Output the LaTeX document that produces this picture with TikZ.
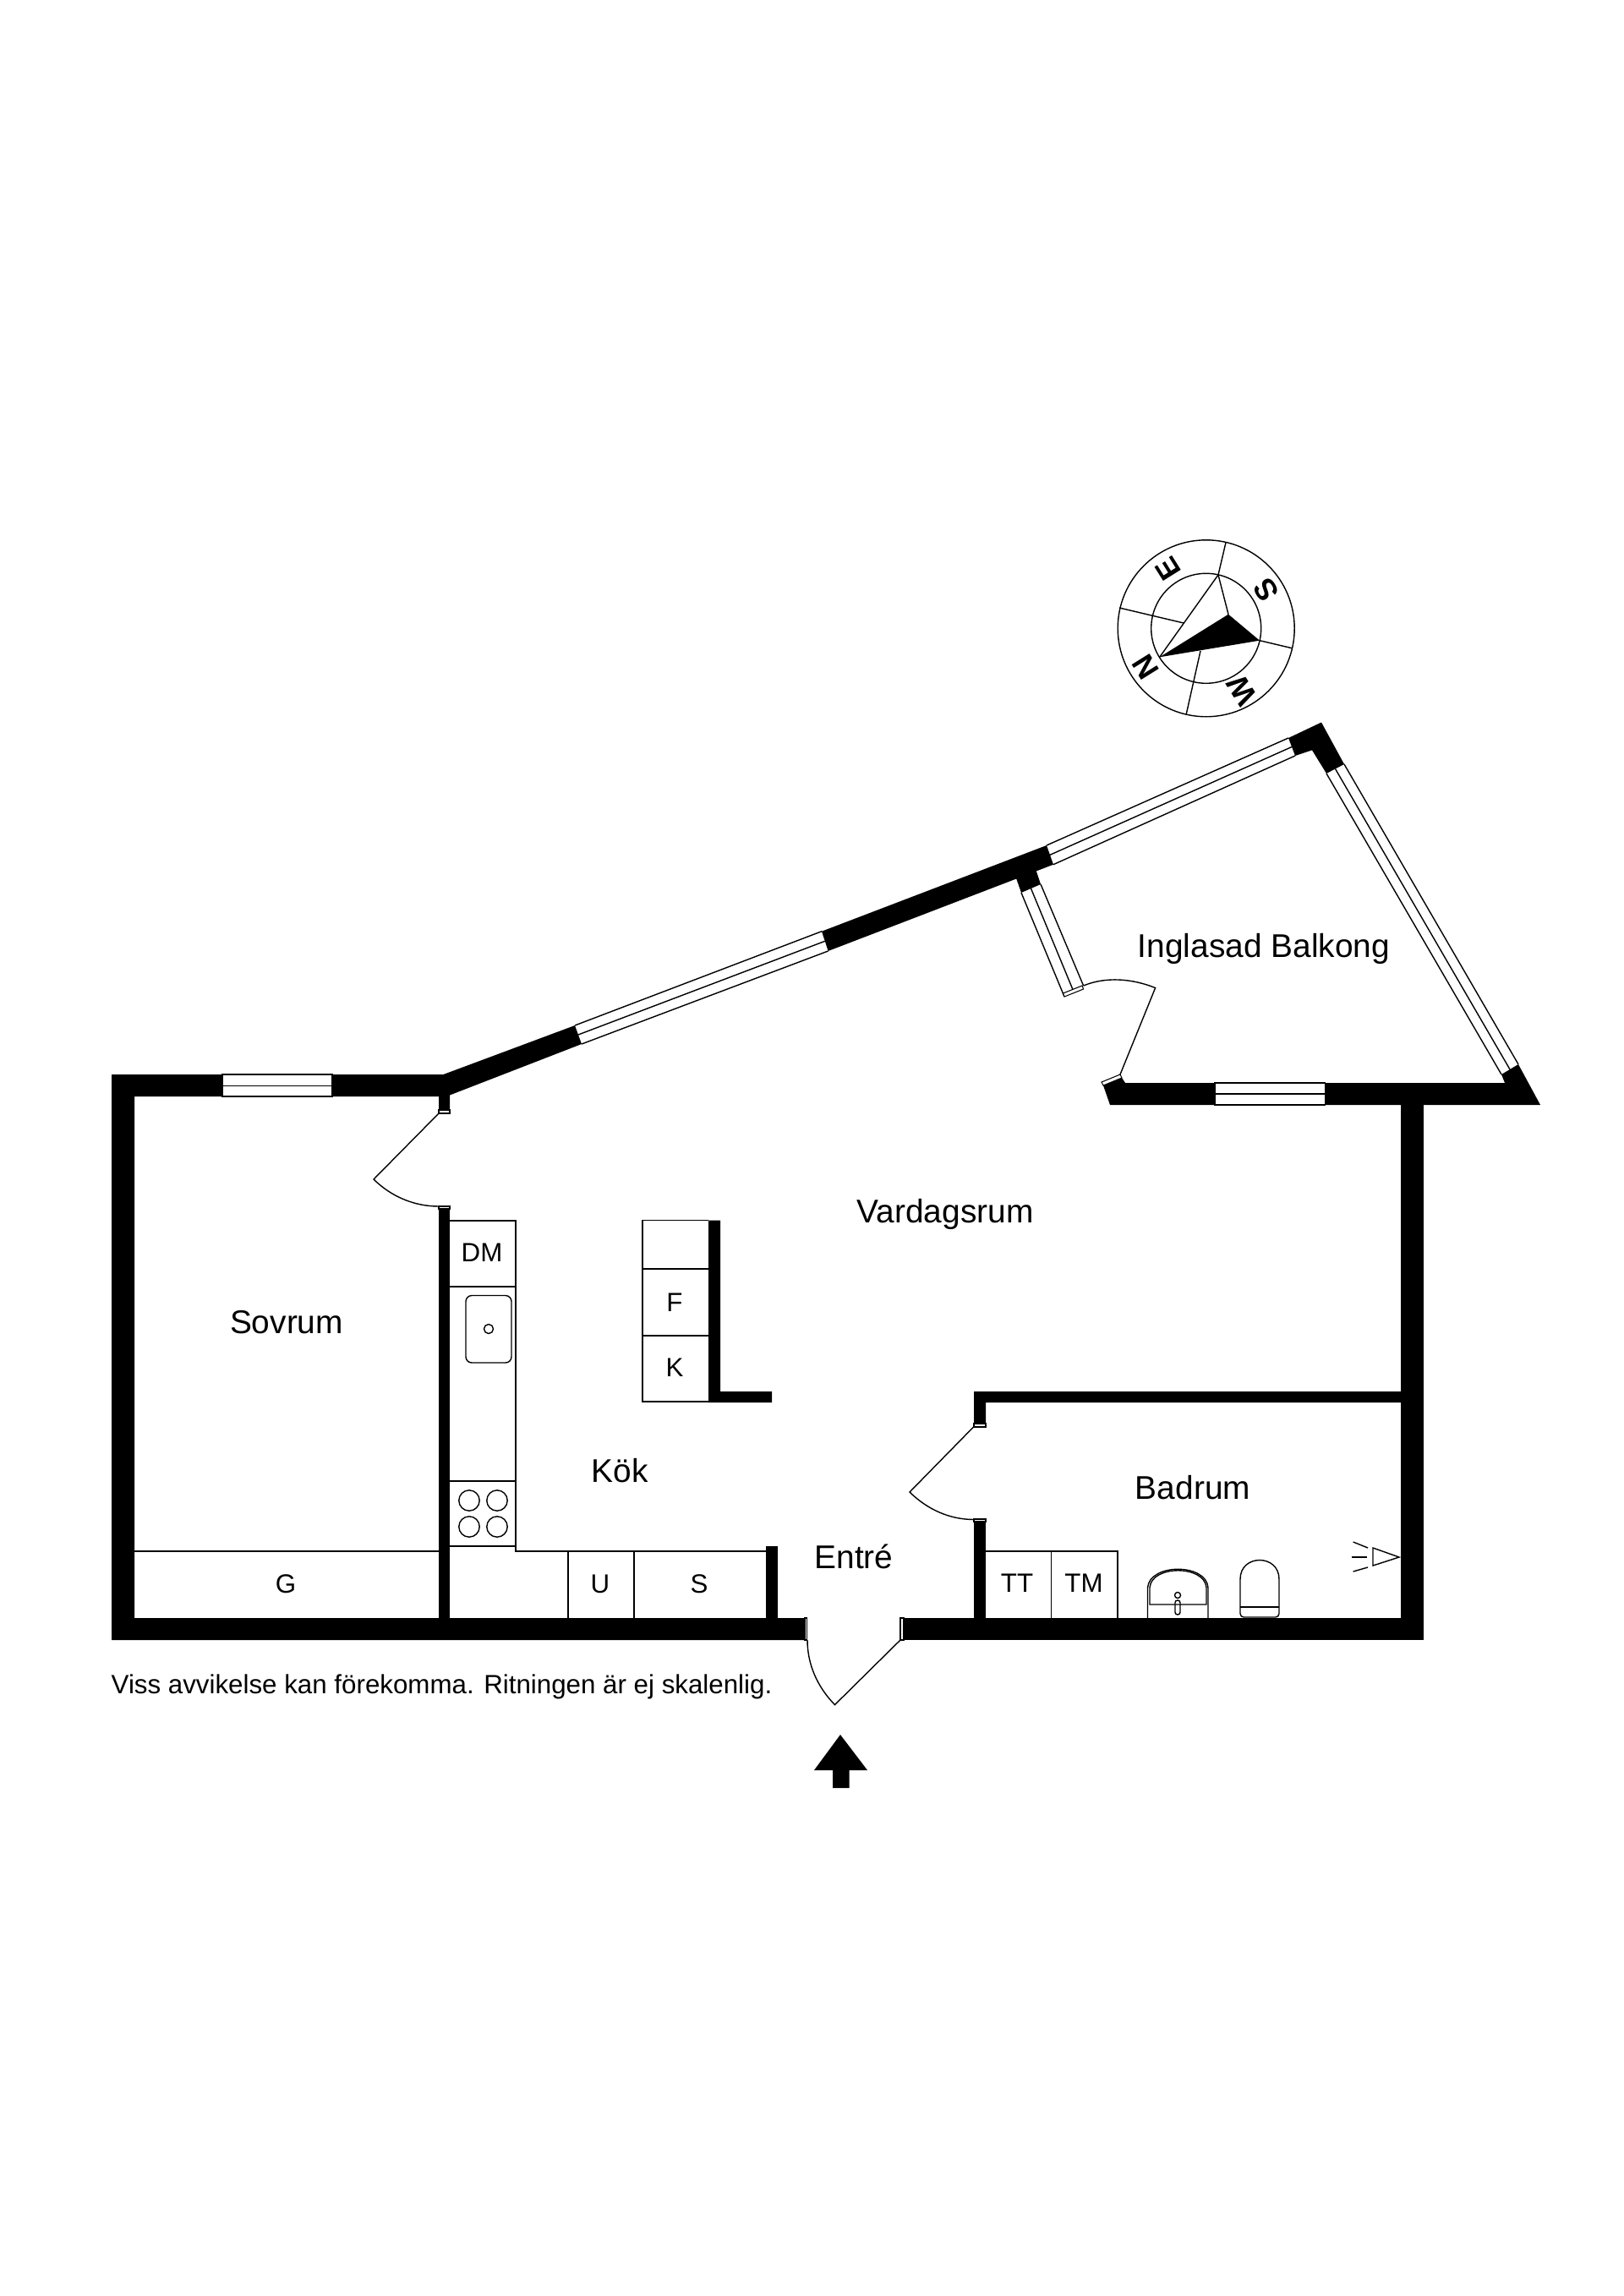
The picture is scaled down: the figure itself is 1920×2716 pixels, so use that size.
\documentclass[tikz,border=0pt]{standalone}
\usepackage{fontspec}
\setmainfont{Liberation Sans}
\tikzset{
  wall/.style = {fill = black},
  thinline/.style = {draw = black, line width = 0.4pt},
  tipbox/.style = {draw = black, line width = 0.3pt, fill = white},
  roomlabel/.style = {font = \fontsize{11.05}{13}\selectfont, inner sep = 0pt},
  unitlabel/.style = {font = \fontsize{8.9}{10}\selectfont, inner sep = 0pt},
  compasslabel/.style = {font = \fontsize{10.2}{12}\selectfont\bfseries, inner sep = 0pt}
}
\begin{document}
\begin{tikzpicture}[x = 0.01cm, y = -0.01cm]
  \useasboundingbox (0,0) rectangle (1920,2716);
  \fill [wall] (132,1271) -- (263,1271) -- (263,1297) -- (159,1297) -- (159,1914) -- (952,1914) -- (952,1940) -- (132,1940) -- cycle;
  \fill [wall] (393,1271) -- (524.5,1271) -- (680,1213) -- (688,1235) -- (532,1295.5) -- (532,1313) -- (519,1313) -- (519,1297) -- (393,1297) -- cycle;
  \fill [wall] (972,1101.7) -- (1238,1000) -- (1246,1022.7) -- (979.6,1125) -- cycle;
  \fill [wall] (1201,1036) -- (1225,1028) -- (1231,1046) -- (1208,1056) -- cycle;
  \fill [wall] (1524,873) -- (1563,854.5) -- (1590,904) -- (1569,915) -- (1552,887.4) -- (1532,894) -- cycle;
  \fill [wall] (1305,1284) -- (1327,1275) -- (1331,1281) -- (1437,1281) -- (1437,1307) -- (1313,1307) -- cycle;
  \fill [wall] (1567.5,1281) -- (1780,1281) -- (1776,1271) -- (1796,1259) -- (1822,1307) -- (1567.5,1307) -- cycle;
  \fill [wall] (1657,1307) rectangle (1684,1940);
  \fill [wall] (1069,1914) rectangle (1684,1940);
  \fill [wall] (1152,1646) -- (1657,1646) -- (1657,1659) -- (1166,1659) -- (1166,1684) -- (1152,1684) -- cycle;
  \fill [wall] (1152,1800) rectangle (1166,1914);
  \fill [wall] (519,1430) rectangle (532,1914);
  \fill [wall] (906,1829) rectangle (920,1914);
  \fill [wall] (838,1443.6) -- (852,1443.6) -- (852,1646) -- (913,1646) -- (913,1659) -- (838,1659) -- cycle;

  \draw [thinline] (263,1271) rectangle (393,1297);
  \draw [thinline] (263,1284.5) -- (393,1284.5);
  \draw [thinline] (1437,1281) rectangle (1567.5,1307);
  \draw [thinline] (1437,1294) -- (1567.5,1294);
  \draw [thinline] (680,1213) -- (972,1101.7);
  \draw [thinline] (684,1224) -- (975.8,1113.3);
  \draw [thinline] (688,1235) -- (979.6,1125);
  \draw [thinline] (1238,1000) -- (1524,873);
  \draw [thinline] (1242,1011.3) -- (1528,883.5);
  \draw [thinline] (1246,1022.7) -- (1532,894);
  \draw [thinline] (1590,904) -- (1796,1259);
  \draw [thinline] (1579.5,909.5) -- (1786,1265);
  \draw [thinline] (1569,915) -- (1776,1271);
  \draw [thinline] (1208,1056) -- (1259,1179);
  \draw [thinline] (1219.5,1051) -- (1270,1173);
  \draw [thinline] (1231,1046) -- (1281.6,1166);

  \draw [tipbox] (519,1313) rectangle (532,1317);
  \draw [tipbox] (519,1427) rectangle (532,1430);
  \draw [tipbox] (1152,1684) rectangle (1166,1688);
  \draw [tipbox] (1152,1797) rectangle (1166,1800);
  \draw [tipbox] (952,1914) rectangle (954.5,1940);
  \draw [tipbox] (1065,1914) rectangle (1069,1940);
  \draw [tipbox] (1303,1280) -- (1325,1271) -- (1327,1275) -- (1305,1284) -- cycle;
  \draw [tipbox] (1259,1179) -- (1281.6,1170) -- (1280,1166) -- (1257.5,1175) -- cycle;

  \draw [thinline] (519,1317) -- (442,1395) .. controls (462.7,1415.4) and (489.8,1427) .. (519,1427);
  \draw [thinline] (1065,1940) -- (987.5,2016.6) .. controls (967.2,1996) and (955,1969.2) .. (955,1940);
  \draw [thinline] (1152,1687.5) -- (1076,1765) .. controls (1096.7,1785.3) and (1123,1797.5) .. (1152,1797.5);
  \draw [thinline] (1325,1271) -- (1366.6,1168.6) .. controls (1339.7,1157.7) and (1308.4,1154.9) .. (1281.6,1166);

  \draw [thinline] (159,1835) -- (519,1835);
  \draw [thinline] (532,1444) -- (610,1444) -- (610,1835) -- (906,1835);
  \draw [thinline] (532,1522) -- (610,1522);
  \draw [thinline] (532,1752) -- (610,1752);
  \draw [thinline] (532,1829) -- (610,1829);
  \draw [thinline, rounded corners = 2pt] (551,1532.5) rectangle (605,1612);
  \draw [thinline] (578,1572) circle [radius = 5.5];
  \foreach \burnerx in {555, 588}{
    \foreach \burnery in {1775, 1806}{
      \draw [thinline] (\burnerx,\burnery) circle [radius = 12.2];
    }
  }
  \draw [thinline] (672,1835) -- (672,1914);
  \draw [thinline] (750,1835) -- (750,1914);
  \draw [thinline] (838,1443.6) -- (760,1443.6) -- (760,1658) -- (838,1658);
  \draw [thinline] (760,1501) -- (838,1501);
  \draw [thinline] (760,1580) -- (838,1580);

  \draw [thinline] (1166,1835) -- (1322,1835) -- (1322,1914);
  \draw [thinline] (1243.6,1835) -- (1243.6,1914);
  \draw [thinline] (1357.5,1914) -- (1357.5,1878) .. controls (1360,1849) and (1427,1849) .. (1429,1878) -- (1429,1914);
  \draw [thinline] (1360,1898) -- (1360,1878) .. controls (1362,1851) and (1425,1851) .. (1427,1878) -- (1427,1898) -- cycle;
  \draw [thinline] (1393,1887) circle [radius = 3.5];
  \draw [thinline, rounded corners = 0.8pt] (1390,1893) rectangle (1396,1910);
  \draw [thinline, rounded corners = 1.2pt] (1513,1868) -- (1513,1913) -- (1467,1913) -- (1467,1868);
  \draw [thinline] (1467,1868) .. controls (1467,1838) and (1513,1838) .. (1513,1868);
  \draw [thinline] (1467,1901) -- (1513,1901);
  \draw [thinline] (1655,1842) -- (1624,1831) -- (1624,1852) -- cycle;
  \draw [thinline] (1599,1842) -- (1617,1842);
  \draw [thinline] (1600.6,1824) -- (1618,1831);
  \draw [thinline] (1600.6,1859) -- (1618,1854);

  \fill (994,2052) -- (1026,2094) -- (1004.5,2094) -- (1004.5,2115) -- (985,2115) -- (985,2094) -- (963,2094) -- cycle;

  \begin{scope}[shift = {(1426.7,743.3)}]
    \draw [thinline] (0,0) circle [radius = 104.5];
    \draw [thinline] (0,0) circle [radius = 65];
    \fill (-55,34) -- (26.3,-16.6) -- (63.3,14.4) -- cycle;
    \draw [thinline] (-55,34) -- (14.3,-63.3) -- (26.3,-16.6);
    \draw [thinline] (14.3,-63.3) -- (23.3,-101.6);
    \draw [thinline] (63.3,14.4) -- (101.3,23.4);
    \draw [thinline] (-6.7,26.7) -- (-23.7,102.4);
    \draw [thinline] (-102.7,-24.3) -- (-26.7,-6.3);
    \foreach \letter/\letterx/\lettery in {N/-71.7/45.7, E/-44.7/-70.3, S/71.3/-45, W/42.3/73.7}{
      \node [compasslabel, rotate = 122] (compass\letter) at (\letterx,\lettery) {\letter};
    }
  \end{scope}

  \node [roomlabel] (sovrum) at (339,1564) {Sovrum};
  \node [roomlabel] (vardagsrum) at (1118,1436) {Vardagsrum};
  \node [roomlabel] (balkong) at (1495,1122) {Inglasad Balkong};
  \node [roomlabel] (kok) at (733,1740) {Kök};
  \node [roomlabel] (entre) at (1010,1841) {Entré};
  \node [roomlabel] (badrum) at (1411,1760) {Badrum};
  \node [unitlabel] (garderob) at (338,1874) {G};
  \node [unitlabel] (diskmaskin) at (570,1482) {DM};
  \node [unitlabel] (frys) at (798,1540.6) {F};
  \node [unitlabel] (kyl) at (798,1618) {K};
  \node [unitlabel] (ugn) at (710,1874) {U};
  \node [unitlabel] (skap) at (827,1874) {S};
  \node [unitlabel] (tvatt) at (1203,1873) {TT};
  \node [unitlabel] (tork) at (1282,1873) {TM};
  \node [unitlabel, anchor = west] (note) at (131,1995) {Viss avvikelse kan förekomma. Ritningen är ej skalenlig.};
\end{tikzpicture}
\end{document}
